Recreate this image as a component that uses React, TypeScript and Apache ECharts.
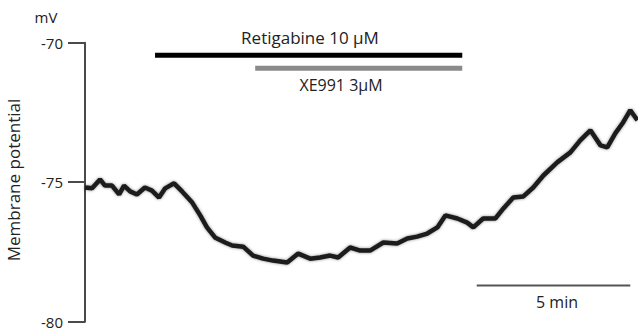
import React, { useEffect, useRef } from "react";
import * as echarts from "echarts";

// Recording time (min) and membrane potential (mV)
const timeMin = [
  0, 0.23, 0.49, 0.65, 0.88, 1.11, 1.27, 1.47, 1.69, 1.95, 2.18, 2.41, 2.61, 2.9, 3.16, 3.49, 3.75, 3.97,
  4.23, 4.56, 4.79, 5.15, 5.47, 5.8, 6.12, 6.58, 6.94, 7.33, 7.65, 7.98, 8.24, 8.63, 8.96, 9.28, 9.71,
  10.16, 10.49, 10.81, 11.14, 11.47, 11.73, 12.12, 12.44, 12.64, 12.96, 13.36, 13.62, 13.94, 14.27,
  14.59, 14.92, 15.37, 15.8, 16.12, 16.45, 16.78, 17.0, 17.26, 17.52, 17.75, 17.98,
];
const membraneMV = [
  -75.19, -75.22, -74.9, -75.12, -75.12, -75.44, -75.12, -75.33, -75.44, -75.19, -75.3, -75.55, -75.22,
  -75.04, -75.33, -75.73, -76.19, -76.62, -76.98, -77.16, -77.27, -77.31, -77.63, -77.74, -77.81, -77.88,
  -77.56, -77.74, -77.7, -77.63, -77.7, -77.34, -77.45, -77.45, -77.16, -77.2, -77.02, -76.95, -76.84,
  -76.62, -76.19, -76.3, -76.45, -76.62, -76.3, -76.3, -75.94, -75.55, -75.51, -75.19, -74.76, -74.29,
  -73.93, -73.5, -73.14, -73.68, -73.75, -73.25, -72.85, -72.42, -72.78,
];

// Drug application windows (min) and scale bar
const retigabineWindow = [2.28, 12.28];
const xe991Window = [5.54, 12.28];
const scaleBarStart = 12.75;
const scaleBarLength = 5;

// Axis ticks (mV)
const yTicks = [-80, -75, -70];

const FONT = "'Open Sans', Lato, sans-serif";

export default function App() {
  const ref = useRef<HTMLDivElement>(null);

  useEffect(() => {
    if (!ref.current) return;
    const chart = echarts.init(ref.current, undefined, { renderer: "svg" });
    const trace = timeMin.map((t, i) => [t, membraneMV[i]]);
    const retLevel = -70.45;
    const xeLevel = -70.92;
    const scaleLevel = -78.7;

    const textStyle = (size: number) => ({
      font: `${size}px ${FONT}`,
      fill: "#222",
      textAlign: "center",
      textVerticalAlign: "middle",
    });

    chart.setOption({
      animation: false,
      backgroundColor: "#ffffff",
      grid: { left: 85, right: 0, top: 42.7, bottom: 10.3, containLabel: false },
      xAxis: {
        type: "value",
        min: 0,
        max: 18,
        show: false,
      },
      yAxis: {
        type: "value",
        min: yTicks[0],
        max: yTicks[yTicks.length - 1],
        interval: 5,
        axisLine: { show: true, lineStyle: { color: "#4a4a4a", width: 2 } },
        axisTick: { show: true, length: 17, lineStyle: { color: "#4a4a4a", width: 2 } },
        axisLabel: { color: "#222", fontSize: 15, fontFamily: FONT, margin: 22 },
        splitLine: { show: false },
      },
      series: [
        {
          type: "line",
          data: trace,
          showSymbol: false,
          symbol: "none",
          lineStyle: {
            color: "#1c1c1c",
            width: 4.5,
            shadowColor: "rgba(0,0,0,0.45)",
            shadowBlur: 3,
          },
          z: 3,
        },
        {
          type: "line",
          data: [
            [retigabineWindow[0], retLevel],
            [retigabineWindow[1], retLevel],
          ],
          symbol: "none",
          lineStyle: { color: "#000", width: 5 },
        },
        {
          type: "line",
          data: [
            [xe991Window[0], xeLevel],
            [xe991Window[1], xeLevel],
          ],
          symbol: "none",
          lineStyle: { color: "#8a8a8a", width: 5 },
        },
        {
          type: "line",
          data: [
            [scaleBarStart, scaleLevel],
            [scaleBarStart + scaleBarLength, scaleLevel],
          ],
          symbol: "none",
          lineStyle: { color: "#555", width: 2 },
        },
      ],
      graphic: [
        { type: "text", x: 46, y: 17, style: { text: "mV", ...textStyle(15) } },
        {
          type: "text",
          x: 13,
          y: 180,
          rotation: Math.PI / 2,
          style: { text: "Membrane potential", ...textStyle(17) },
        },
        { type: "text", x: 310, y: 37, style: { text: "Retigabine 10 μM", ...textStyle(17) } },
        { type: "text", x: 341, y: 85, style: { text: "XE991 3μM", ...textStyle(16) } },
        { type: "text", x: 557, y: 302, style: { text: `${scaleBarLength} min`, ...textStyle(16) } },
      ],
    });

    return () => chart.dispose();
  }, []);

  return (
    <div
      ref={ref}
      style={{ position: "absolute", left: 0, top: 0, width: 638, height: 332, background: "#fff" }}
    />
  );
}
